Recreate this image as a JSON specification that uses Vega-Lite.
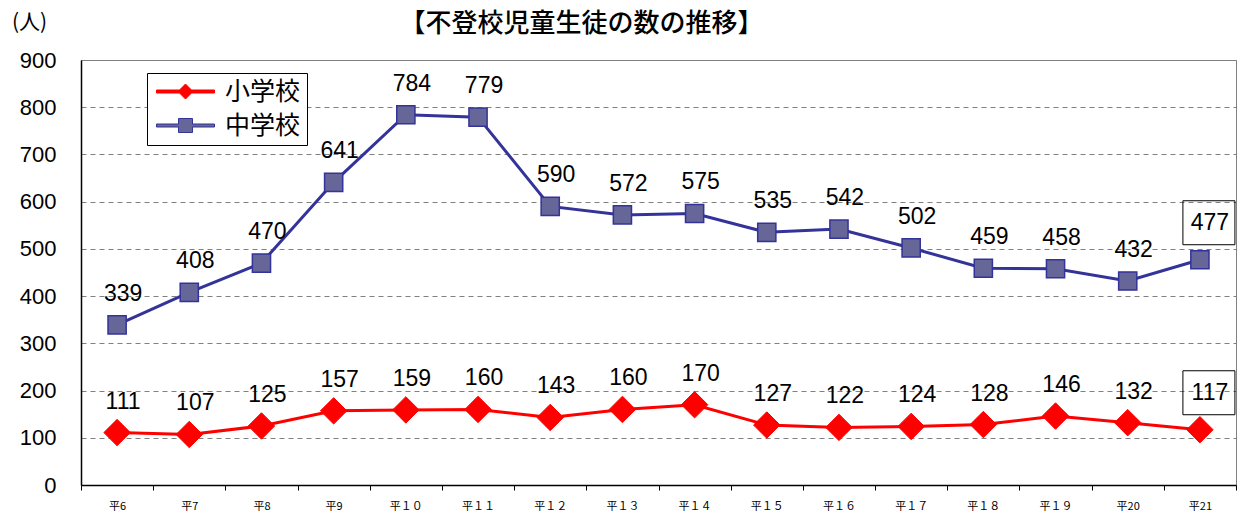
{
  "$schema": "https://vega.github.io/schema/vega-lite/v6.json",
  "width": 1155,
  "height": 425,
  "autosize": {"type": "none"},
  "padding": {"left": 81, "top": 60, "right": 8, "bottom": 33},
  "background": "white",
  "title": {
    "text": "【不登校児童生徒の数の推移】",
    "font": "Noto Sans CJK JP",
    "fontSize": 26,
    "fontWeight": 500,
    "color": "black",
    "anchor": "middle",
    "dx": -77,
    "offset": 22,
    "dy": 48
  },
  "config": {
    "view": {"stroke": "#808080", "strokeWidth": 1}
  },
  "data": {
    "values": [
      {"year": "平6", "school": "小学校", "value": 111},
      {"year": "平7", "school": "小学校", "value": 107},
      {"year": "平8", "school": "小学校", "value": 125},
      {"year": "平9", "school": "小学校", "value": 157},
      {"year": "平１０", "school": "小学校", "value": 159},
      {"year": "平１１", "school": "小学校", "value": 160},
      {"year": "平１２", "school": "小学校", "value": 143},
      {"year": "平１３", "school": "小学校", "value": 160},
      {"year": "平１４", "school": "小学校", "value": 170},
      {"year": "平１５", "school": "小学校", "value": 127},
      {"year": "平１６", "school": "小学校", "value": 122},
      {"year": "平１７", "school": "小学校", "value": 124},
      {"year": "平１８", "school": "小学校", "value": 128},
      {"year": "平１９", "school": "小学校", "value": 146},
      {"year": "平20", "school": "小学校", "value": 132},
      {"year": "平21", "school": "小学校", "value": 117},
      {"year": "平6", "school": "中学校", "value": 339},
      {"year": "平7", "school": "中学校", "value": 408},
      {"year": "平8", "school": "中学校", "value": 470},
      {"year": "平9", "school": "中学校", "value": 641},
      {"year": "平１０", "school": "中学校", "value": 784},
      {"year": "平１１", "school": "中学校", "value": 779},
      {"year": "平１２", "school": "中学校", "value": 590},
      {"year": "平１３", "school": "中学校", "value": 572},
      {"year": "平１４", "school": "中学校", "value": 575},
      {"year": "平１５", "school": "中学校", "value": 535},
      {"year": "平１６", "school": "中学校", "value": 542},
      {"year": "平１７", "school": "中学校", "value": 502},
      {"year": "平１８", "school": "中学校", "value": 459},
      {"year": "平１９", "school": "中学校", "value": 458},
      {"year": "平20", "school": "中学校", "value": 432},
      {"year": "平21", "school": "中学校", "value": 477}
    ]
  },
  "encoding": {
    "x": {
      "field": "year",
      "type": "nominal",
      "sort": null,
      "scale": {"type": "band", "paddingInner": 0, "paddingOuter": 0},
      "axis": {
        "title": null,
        "labelAngle": 0,
        "labelFont": "Noto Sans CJK JP",
        "labelFontSize": 11,
        "labelColor": "black",
        "labelPadding": 10,
        "tickSize": 5,
        "tickColor": "black",
        "tickBand": "extent",
        "domainColor": "black",
        "domainWidth": 1.5,
        "grid": false
      }
    },
    "y": {
      "field": "value",
      "type": "quantitative",
      "scale": {"domain": [0, 900], "nice": false},
      "axis": {
        "values": [0, 100, 200, 300, 400, 500, 600, 700, 800, 900],
        "title": "(人)",
        "titleFont": "Noto Sans CJK JP",
        "titleFontSize": 21,
        "titleFontWeight": "normal",
        "titleColor": "black",
        "titleAngle": 0,
        "titleAlign": "center",
        "titleBaseline": "middle",
        "titleX": -52,
        "titleY": -38,
        "labelFont": "Liberation Sans",
        "labelFontSize": 22,
        "labelColor": "black",
        "labelPadding": 25,
        "ticks": false,
        "domainColor": "black",
        "domainWidth": 1.5,
        "grid": true,
        "gridColor": "#808080",
        "gridDash": [5, 4],
        "gridWidth": 1
      }
    }
  },
  "layer": [
    {
      "mark": {"type": "point", "filled": true, "opacity": 0},
      "encoding": {
        "shape": {
          "field": "school",
          "type": "nominal",
          "scale": {
            "domain": ["小学校", "中学校"],
            "range": [
              "M-2.9,-0.15H-0.6L0,-0.75L0.6,-0.15H2.9V0.15H0.6L0,0.75L-0.6,0.15H-2.9Z",
              "M-2.9,-0.15H-0.7V-0.7H0.7V-0.15H2.9V0.15H0.7V0.7H-0.7V0.15H-2.9Z"
            ]
          },
          "legend": {
            "orient": "none",
            "legendX": 66,
            "legendY": 13,
            "title": null,
            "fillColor": "white",
            "strokeColor": "black",
            "padding": 6,
            "labelFont": "Noto Sans CJK JP",
            "labelFontSize": 25,
            "labelColor": "black",
            "symbolSize": 400,
            "symbolOffset": 20,
            "labelOffset": 27,
            "rowPadding": 8,
            "symbolStrokeWidth": 1,
            "symbolOpacity": 1
          }
        },
        "fill": {
          "field": "school",
          "type": "nominal",
          "scale": {"domain": ["小学校", "中学校"], "range": ["#FF0000", "#666699"]},
          "legend": {
            "orient": "none",
            "legendX": 66,
            "legendY": 13,
            "title": null,
            "symbolOpacity": 1
          }
        },
        "stroke": {
          "field": "school",
          "type": "nominal",
          "scale": {"domain": ["小学校", "中学校"], "range": ["#FF0000", "#333399"]},
          "legend": {
            "orient": "none",
            "legendX": 66,
            "legendY": 13,
            "title": null,
            "symbolOpacity": 1
          }
        }
      }
    },
    {
      "mark": {"type": "line", "strokeWidth": 3},
      "encoding": {
        "color": {
          "field": "school",
          "type": "nominal",
          "scale": {"domain": ["小学校", "中学校"], "range": ["#FF0000", "#333399"]},
          "legend": null
        }
      }
    },
    {
      "transform": [{"filter": "datum.school === '小学校'"}],
      "mark": {"type": "point", "shape": "diamond", "filled": true, "fill": "#FF0000", "stroke": "#FF0000", "strokeWidth": 1, "size": 700, "opacity": 1}
    },
    {
      "transform": [{"filter": "datum.school === '中学校'"}],
      "mark": {"type": "point", "shape": "square", "filled": true, "fill": "#666699", "stroke": "#333399", "strokeWidth": 1.5, "size": 330, "opacity": 1}
    },
    {
      "transform": [{"filter": "datum.year !== '平21'"}],
      "mark": {"type": "text", "font": "Liberation Sans", "fontSize": 23, "color": "black", "dx": 6, "dy": -31, "baseline": "middle", "align": "center"},
      "encoding": {"text": {"field": "value", "type": "quantitative"}}
    },
    {
      "transform": [{"filter": "datum.year === '平21'"}],
      "mark": {"type": "text", "font": "Liberation Sans", "fontSize": 23, "color": "black", "dx": 10, "dy": -37, "baseline": "middle", "align": "center"},
      "encoding": {"text": {"field": "value", "type": "quantitative"}}
    },
    {
      "transform": [{"filter": "datum.year === '平21'"}],
      "mark": {"type": "point", "shape": "M-1,-0.846H1V0.846H-1Z", "filled": false, "stroke": "black", "strokeWidth": 1, "size": 2704, "xOffset": 9, "yOffset": -37, "opacity": 1}
    }
  ]
}
